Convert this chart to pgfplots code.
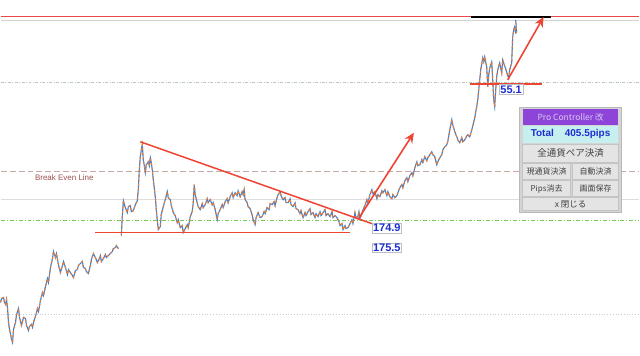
\documentclass[border=0pt]{standalone}
\usepackage{pgfplots}
\pgfplotsset{compat=1.18}
\usetikzlibrary{arrows.meta}
\usepackage{fontspec}
\setmainfont{Liberation Sans}
\newfontfamily\cjk{Noto Sans CJK JP}
\definecolor{pblue}{HTML}{3F7FD0}
\definecolor{porange}{HTML}{F07A30}
\definecolor{tred}{HTML}{EE4433}
\definecolor{topred}{HTML}{E84848}
\definecolor{bel}{HTML}{C9A9A6}
\definecolor{beltext}{HTML}{A05050}
\definecolor{gline}{HTML}{DDDDDD}
\definecolor{gdash}{HTML}{77CC55}
\definecolor{ggdash}{HTML}{B8C8B8}
\definecolor{purp}{HTML}{8E44D8}
\definecolor{purptext}{HTML}{D8C8F4}
\definecolor{cyanbg}{HTML}{C6EFEF}
\definecolor{lblue}{HTML}{1A2FD0}
\definecolor{btn}{HTML}{E4E4E4}
\definecolor{btnb}{HTML}{C4C4C4}
\definecolor{panel}{HTML}{D4D4D4}
\pgfplotstableread{
x y
0 303
1 299
3 298
4 303
5 305
6 300
7 309
8 323
9 330
10 335
11 340
12 343
13 330
15 323
16 315
18 309
19 318
21 326
22 322
23 318
25 319
26 326
28 331
29 327
31 325
32 328
33 323
35 317
37 309
38 312
40 301
42 293
43 296
45 287
47 279
48 283
50 268
52 259
53 252
55 258
56 254
58 265
60 273
62 266
63 262
65 268
67 275
68 270
70 273
72 276
73 278
75 271
77 270
78 266
80 264
82 262
83 268
85 269
86 272
88 274
90 266
91 260
93 254
95 258
97 263
99 259
100 256
101 262
103 259
105 255
106 258
108 256
110 254
112 252
113 249
115 248
116 246
118 249
}\seriesA
\pgfplotstableread{
x y
121 236
122 216
123 201
125 208
127 213
128 207
130 206
131 212
133 211
135 205
137 201
138 190
139 170
140 157
141 150
142 145
143 160
144 166
145 173
146 165
148 162
149 166
150 158
151 163
152 170
153 180
155 197
156 210
157 220
158 230
160 227
161 215
163 207
165 200
167 192
168 198
170 200
171 206
173 213
175 216
177 223
178 220
180 228
182 226
183 233
185 229
187 225
188 228
190 217
192 212
193 203
194 185
195 195
197 203
198 207
200 210
202 204
203 208
205 205
207 199
208 203
210 200
212 205
213 203
215 210
217 220
218 214
220 210
222 205
223 208
225 202
227 199
228 203
230 197
232 193
233 198
235 193
237 196
238 191
240 197
242 192
243 195
244 190
245 200
247 203
248 207
250 209
252 215
253 220
255 225
256 218
258 213
260 218
262 217
264 212
265 214
267 208
269 210
270 204
272 205
274 202
275 206
277 198
278 195
280 192
281 196
283 200
285 198
286 203
288 203
290 199
291 205
293 207
295 203
296 209
298 210
300 214
301 211
303 218
305 213
306 216
308 212
310 209
311 215
313 213
315 218
316 214
318 217
320 212
321 216
323 213
325 210
326 216
328 214
330 217
332 212
333 218
335 216
337 218
339 222
340 226
342 224
343 230
345 226
346 229
348 228
350 224
352 220
353 224
355 213
356 218
358 217
359 212
360 219
362 214
363 210
365 206
367 200
368 203
370 195
372 190
373 194
375 192
377 199
378 195
380 197
382 191
383 193
385 190
387 196
388 192
390 197
392 199
393 195
395 198
397 196
398 193
400 188
402 185
403 188
405 181
407 178
408 182
410 176
412 173
413 176
415 168
417 162
418 166
420 165
422 160
423 163
425 157
427 161
428 158
430 155
432 152
433 155
435 157
437 165
438 162
440 158
442 155
443 150
445 147
447 145
448 142
450 130
452 120
453 125
455 132
457 137
458 140
460 143
462 138
463 142
465 140
467 136
468 135
470 137
472 130
473 126
475 118
476 112
477 107
478 100
480 80
481 70
483 58
484 62
485 57
487 67
488 87
489 75
490 68
492 62
493 80
494 100
495 107
496 90
497 77
498 70
500 63
501 68
502 73
503 60
505 66
507 72
508 76
509 78
510 70
512 63
513 37
514 30
515 27
516 33
517 32
516 20
}\seriesB
\begin{document}
\begin{tikzpicture}
\begin{axis}[scale only axis, width=640pt, height=356pt,
  xmin=0, xmax=640, ymin=0, ymax=356, y dir=reverse,
  hide axis, clip=false]
\path (rel axis cs:0,0) rectangle (rel axis cs:1,1);
% horizontal levels
\addplot[gray!35, line width=0.6pt] coordinates {(0,20)(640,20)};
\addplot[topred, line width=0.9pt] coordinates {(0,16.5)(640,16.5)};
\addplot[ggdash, line width=0.8pt, dash pattern=on 3pt off 1.5pt on 1pt off 1.5pt] coordinates {(0,83)(640,83)};
\addplot[bel, line width=1.1pt, dash pattern=on 6pt off 3pt] coordinates {(0,172)(640,172)};
\addplot[gline, line width=0.8pt] coordinates {(0,200)(640,200)};
\addplot[gdash, line width=0.9pt, dash pattern=on 4pt off 2pt on 1pt off 2pt] coordinates {(0,221)(640,221)};
\addplot[gray!40, line width=0.8pt, dotted] coordinates {(0,315)(640,315)};
% price series
\addplot[pblue, line width=1.1pt] table {\seriesA};
\addplot[porange, line width=1.1pt, dash pattern=on 2pt off 2.5pt] table {\seriesA};
\addplot[pblue, line width=1.1pt] table {\seriesB};
\addplot[porange, line width=1.1pt, dash pattern=on 2pt off 2.5pt] table {\seriesB};
% trend lines
\addplot[tred, line width=1.5pt] coordinates {(140,142)(372,224)};
\addplot[tred, line width=1.5pt] coordinates {(95,233)(350,233)};
\addplot[tred, line width=1.5pt] coordinates {(470,84)(542,84)};
\addplot[black, line width=1.5pt] coordinates {(471,17)(551,17)};
\addplot[tred, line width=1.6pt, -{Stealth[length=10pt,width=9pt]}] coordinates {(358,220)(414,133)};
\addplot[tred, line width=1.6pt, -{Stealth[length=10pt,width=9pt]}] coordinates {(508,80)(544,17)};
% labels
\node[anchor=west, text=beltext, font=\fontsize{8}{8}\selectfont] at (axis cs:31,178) {Break Even Line};
\node[draw=gray!50, fill=white, inner sep=1pt, text=lblue, font=\bfseries\fontsize{11}{11}\selectfont, anchor=north west] at (axis cs:372,223.5) {174.9};
\node[draw=gray!50, fill=white, inner sep=1pt, text=lblue, font=\bfseries\fontsize{11}{11}\selectfont, anchor=north west] at (axis cs:372,243) {175.5};
\node[draw=gray!50, fill=white, inner sep=1pt, text=lblue, font=\bfseries\fontsize{11}{11}\selectfont, anchor=north west] at (axis cs:499.5,84.5) {55.1};
% panel
\fill[panel] (axis cs:520,107) rectangle (axis cs:622,213);
\draw[gray!55] (axis cs:520,107) rectangle (axis cs:622,213);
\fill[purp] (axis cs:523,109) rectangle (axis cs:619,125);
\node[text=purptext, font=\cjk\fontsize{8.5}{9}\selectfont] at (axis cs:571,117) {Pro Controller 改};
\fill[cyanbg] (axis cs:523,126) rectangle (axis cs:619,143);
\node[text=lblue, font=\bfseries\fontsize{10}{10}\selectfont] at (axis cs:571,134.5) {Total\hspace{1.1em}405.5pips};
\filldraw[fill=btn, draw=btnb] (axis cs:523,144) rectangle (axis cs:619,162);
\node[font=\cjk\fontsize{9.5}{9}\selectfont, text=black!75] at (axis cs:571,153) {全通貨ペア決済};
\filldraw[fill=btn, draw=btnb] (axis cs:523,163) rectangle (axis cs:571,180);
\filldraw[fill=btn, draw=btnb] (axis cs:573,163) rectangle (axis cs:619,180);
\node[font=\cjk\fontsize{8}{8}\selectfont, text=black!75] at (axis cs:547,171.5) {現通貨決済};
\node[font=\cjk\fontsize{8}{8}\selectfont, text=black!75] at (axis cs:596,171.5) {自動決済};
\filldraw[fill=btn, draw=btnb] (axis cs:523,181) rectangle (axis cs:571,197);
\filldraw[fill=btn, draw=btnb] (axis cs:573,181) rectangle (axis cs:619,197);
\node[font=\cjk\fontsize{8}{8}\selectfont, text=black!75] at (axis cs:547,189) {Pips消去};
\node[font=\cjk\fontsize{8}{8}\selectfont, text=black!75] at (axis cs:596,189) {画面保存};
\filldraw[fill=btn, draw=btnb] (axis cs:523,198) rectangle (axis cs:619,211);
\node[font=\cjk\fontsize{8.5}{8}\selectfont, text=black!75] at (axis cs:571,204.5) {x 閉じる};
\end{axis}
\end{tikzpicture}
\end{document}
